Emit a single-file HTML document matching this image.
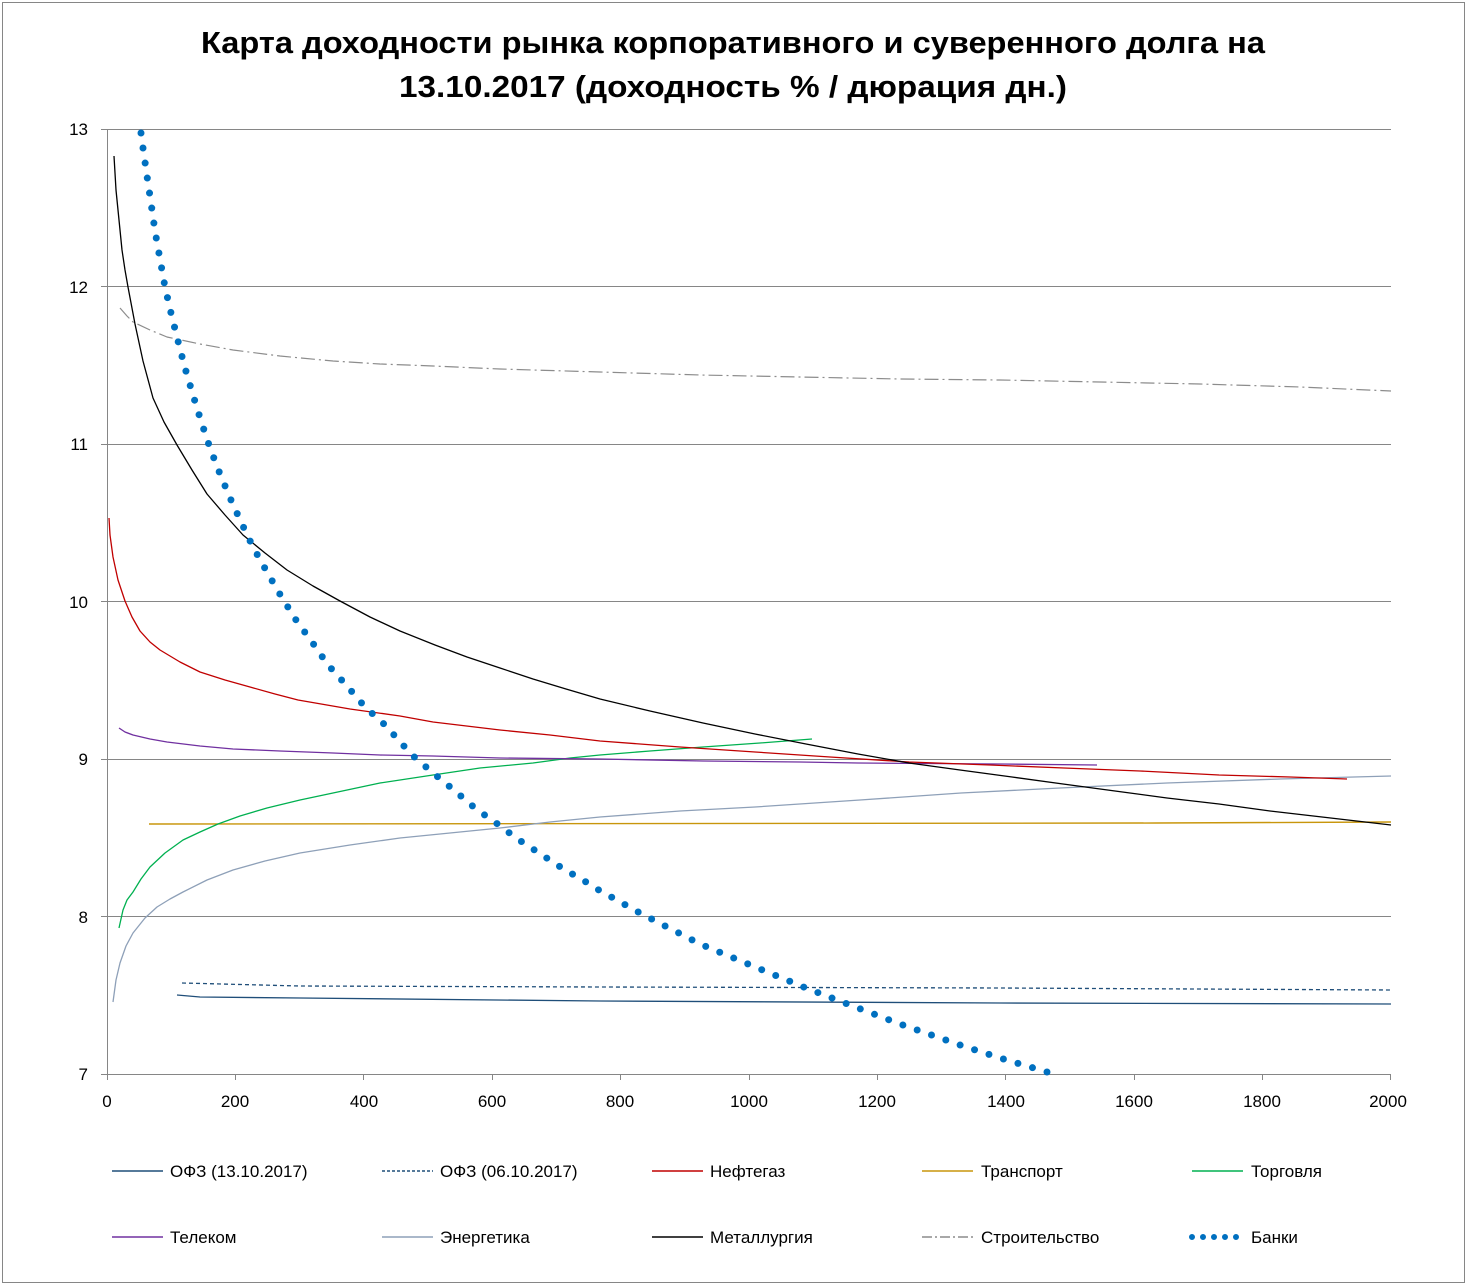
<!DOCTYPE html>
<html><head><meta charset="utf-8"><style>
html,body{margin:0;padding:0;background:#fff;}
svg{display:block;font-family:"Liberation Sans",sans-serif;}
</style></head><body>
<svg width="1468" height="1286" viewBox="0 0 1468 1286" xmlns="http://www.w3.org/2000/svg">
<rect x="2.5" y="2.5" width="1462" height="1280" fill="#fff" stroke="#868686" stroke-width="1"/>
<text x="733" y="53" text-anchor="middle" font-size="31" font-weight="bold" textLength="1064" lengthAdjust="spacingAndGlyphs">Карта доходности рынка корпоративного и суверенного долга на</text>
<text x="733" y="97" text-anchor="middle" font-size="31" font-weight="bold" textLength="668" lengthAdjust="spacingAndGlyphs">13.10.2017 (доходность % / дюрация дн.)</text>
<g stroke="#868686" stroke-width="1">
<line x1="107" y1="129.5" x2="1391" y2="129.5"/>
<line x1="107" y1="286.5" x2="1391" y2="286.5"/>
<line x1="107" y1="444.5" x2="1391" y2="444.5"/>
<line x1="107" y1="601.5" x2="1391" y2="601.5"/>
<line x1="107" y1="759.5" x2="1391" y2="759.5"/>
<line x1="107" y1="916.5" x2="1391" y2="916.5"/>
<line x1="101" y1="1074.5" x2="1391" y2="1074.5"/>
<line x1="107.5" y1="129" x2="107.5" y2="1080"/>
<line x1="101" y1="129.5" x2="107" y2="129.5"/>
<line x1="101" y1="286.5" x2="107" y2="286.5"/>
<line x1="101" y1="444.5" x2="107" y2="444.5"/>
<line x1="101" y1="601.5" x2="107" y2="601.5"/>
<line x1="101" y1="759.5" x2="107" y2="759.5"/>
<line x1="101" y1="916.5" x2="107" y2="916.5"/>
<line x1="235.5" y1="1074" x2="235.5" y2="1080"/>
<line x1="363.5" y1="1074" x2="363.5" y2="1080"/>
<line x1="492.5" y1="1074" x2="492.5" y2="1080"/>
<line x1="620.5" y1="1074" x2="620.5" y2="1080"/>
<line x1="749.5" y1="1074" x2="749.5" y2="1080"/>
<line x1="877.5" y1="1074" x2="877.5" y2="1080"/>
<line x1="1005.5" y1="1074" x2="1005.5" y2="1080"/>
<line x1="1134.5" y1="1074" x2="1134.5" y2="1080"/>
<line x1="1262.5" y1="1074" x2="1262.5" y2="1080"/>
<line x1="1390.5" y1="1074" x2="1390.5" y2="1080"/>
</g>
<g font-size="17" fill="#000" text-anchor="end">
<text x="88" y="135">13</text><text x="88" y="293">12</text><text x="88" y="450">11</text>
<text x="88" y="608">10</text><text x="88" y="765">9</text><text x="88" y="923">8</text><text x="88" y="1080">7</text>
</g>
<g font-size="17" fill="#000" text-anchor="middle">
<text x="107" y="1107">0</text><text x="235" y="1107">200</text><text x="364" y="1107">400</text>
<text x="492" y="1107">600</text><text x="620" y="1107">800</text><text x="749" y="1107">1000</text>
<text x="877" y="1107">1200</text><text x="1006" y="1107">1400</text><text x="1134" y="1107">1600</text>
<text x="1262" y="1107">1800</text><text x="1388" y="1107">2000</text>
</g>
<g fill="none" stroke-linejoin="round">
<polyline stroke="#1F4E79" stroke-width="1.3" points="177,995 200,997 300,998 600,1001 1000,1003 1391,1004"/>
<polyline stroke="#1F4E79" stroke-width="1.3" stroke-dasharray="4,3" points="182,983 300,986 600,987 1000,988 1391,990"/>
<polyline stroke="#C8960C" stroke-width="1.4" points="149,824 1156,823 1391,822"/>
<polyline stroke="#8EA0B8" stroke-width="1.3" points="113,1002 116,980 120,963 126,946 133,933 145,918 157,907 170,899 183,892 207,880 233,870 265,861 300,853 350,845 400,838 450,833 500,828 550,822 600,817 680,811 755,807 860,800 961,793 1060,788 1167,783 1280,779 1391,776"/>
<polyline stroke="#00B050" stroke-width="1.3" points="119,928 123,910 127,900 133,892 141,879 150,867 165,853 183,840 200,832 218,824 240,816 267,808 300,800 333,793 380,783 433,775 480,768 533,763 570,758 600,755 650,751 703,747 760,743 812,739"/>
<polyline stroke="#7030A0" stroke-width="1.3" points="119,728 125,732 133,735 150,739 167,742 200,746 233,749 280,751 333,753 380,755 433,756 500,758 600,759 703,761 800,762 858,763 1000,764 1097,765"/>
<polyline stroke="#C00000" stroke-width="1.3" points="109,518 110,535 113,557 118,580 125,601 132,617 140,631 150,642 160,650 180,662 200,672 225,680 250,687 275,694 298,700 350,709 400,716 433,722 500,730 550,735 600,741 680,747 755,752 830,757 909,762 990,765 1064,768 1140,771 1219,775 1290,777 1347,779"/>
<polyline stroke="#000" stroke-width="1.3" points="114,156 116,190 119,220 122,250 125,270 128,287 135,324 143,361 153,398 164,422 177,445 192,470 207,494 225,515 243,535 265,553 287,570 313,586 340,601 370,617 400,631 435,645 467,657 500,668 533,679 566,689 600,699 650,711 703,723 755,734 806,744 858,754 909,763 960,770 1012,777 1063,784 1115,791 1167,798 1219,804 1270,811 1322,817 1391,825"/>
<polyline stroke="#8C8C8C" stroke-width="1.2" stroke-dasharray="14,4,2,4" points="120,308 127,316 133,322 150,330 167,337 200,344 233,350 280,356 333,361 380,364 433,366 500,369 600,372 700,375 800,377 900,379 1000,380 1100,382 1200,384 1300,387 1391,391"/>
<polyline stroke="#0070C0" stroke-width="7" stroke-linecap="round" pathLength="930" stroke-dasharray="0,10" points="141,133 143,148 147,176 151,203 155,231 160,259 165,287 171,313 178,341 185,368 193,395 201,421 210,448 220,474 231,500 241,522 253,547 267,572 281,596 296,620 312,642 328,665 347,686 365,707 385,725 412,755 433,773 455,791 476,809 499,825 516,838 539,853 562,868 586,882 597,889 640,913 700,944 760,969 806,988 850,1005 900,1024 960,1045 1000,1058 1047,1072"/>
</g>
<g stroke-width="1.4" fill="none">
<line x1="112" y1="1171" x2="163" y2="1171" stroke="#1F4E79"/>
<line x1="382" y1="1171" x2="433" y2="1171" stroke="#1F4E79" stroke-dasharray="3,2"/>
<line x1="652" y1="1171" x2="703" y2="1171" stroke="#C00000"/>
<line x1="922" y1="1171" x2="973" y2="1171" stroke="#C8960C"/>
<line x1="1192" y1="1171" x2="1243" y2="1171" stroke="#00B050"/>
<line x1="112" y1="1237" x2="163" y2="1237" stroke="#7030A0"/>
<line x1="382" y1="1237" x2="433" y2="1237" stroke="#8EA0B8"/>
<line x1="652" y1="1237" x2="703" y2="1237" stroke="#000"/>
<line x1="922" y1="1237" x2="973" y2="1237" stroke="#8C8C8C" stroke-dasharray="10,3,2,3"/>
<line x1="1192" y1="1237" x2="1243" y2="1237" stroke="#0070C0" stroke-width="6" stroke-linecap="round" stroke-dasharray="0,11"/>
</g>
<g font-size="17" fill="#000">
<text x="170" y="1177">ОФЗ (13.10.2017)</text>
<text x="440" y="1177">ОФЗ (06.10.2017)</text>
<text x="710" y="1177">Нефтегаз</text>
<text x="981" y="1177">Транспорт</text>
<text x="1251" y="1177">Торговля</text>
<text x="170" y="1243">Телеком</text>
<text x="440" y="1243">Энергетика</text>
<text x="710" y="1243">Металлургия</text>
<text x="981" y="1243">Строительство</text>
<text x="1251" y="1243">Банки</text>
</g>
</svg>
</body></html>
